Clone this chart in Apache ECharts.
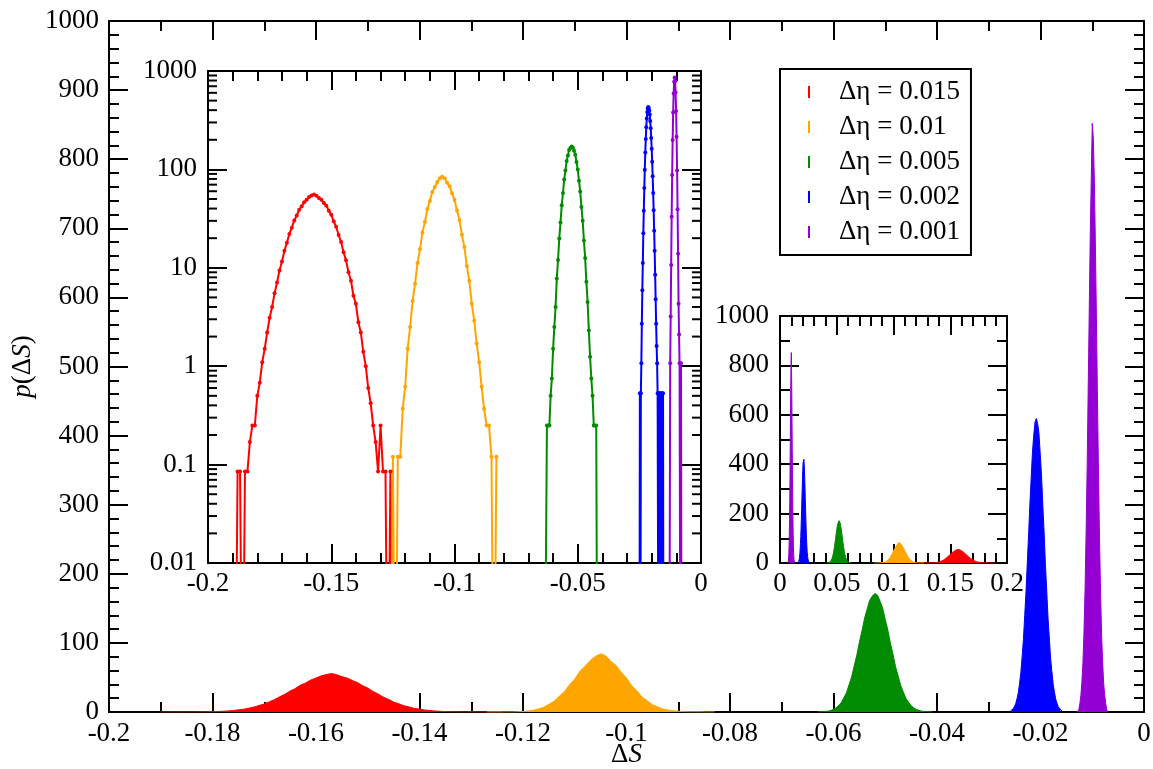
<!DOCTYPE html>
<html>
<head>
<meta charset="utf-8">
<title>p(ΔS)</title>
<script src="https://cdn.jsdelivr.net/npm/echarts@6/dist/echarts.min.js"></script>
<style>
  html, body { margin: 0; padding: 0; background: #fff; }
  #chart { width: 1153px; height: 769px; }
</style>
</head>
<body>
<div id="chart"></div>
<script>
// legend names and colours
const names = ['Δη = 0.015', 'Δη = 0.01', 'Δη = 0.005', 'Δη = 0.002', 'Δη = 0.001']
const colors = ['#ff0000', '#ffa500', '#008b00', '#0000ff', '#9400d3']

// main histograms p(ΔS), also shown mirrored (-ΔS) in the small linear inset
const red = [0, 0, 0.085, 0.085, 0, 0.085, 0.085, 0.17, 0.25, 0.25, 0.5, 0.68, 1.1, 1.5, 2.2, 3.1, 4.0, 5.5, 7.1, 9.4, 11.6, 14.9, 18.0, 22.1, 25.6, 30.3, 34.0, 38.9, 42.1, 46.3, 49.1, 52.3, 54.2, 55.6, 54.0, 51.2, 49.2, 45.6, 42.8, 38.1, 34.6, 29.7, 26.1, 21.5, 18.3, 14.4, 11.9, 9.0, 7.4, 5.2, 4.3, 2.8, 2.2, 1.4, 1.0, 0.6, 0.42, 0.25, 0.17, 0.085, 0.25, 0.085, 0.085, 0, 0.085, 0, 0]
const orange = [0, 0, 0.12, 0, 0.12, 0.12, 0.37, 0.62, 1.5, 2.5, 4.6, 6.9, 11.2, 15.4, 22.9, 29.4, 39.6, 47.8, 58.9, 66.1, 74.5, 80.6, 84.2, 81.3, 73.1, 67.4, 57.3, 49.2, 38.2, 30.6, 21.7, 16.3, 10.4, 7.4, 4.3, 2.9, 1.7, 1.1, 0.62, 0.37, 0.25, 0.25, 0.12, 0, 0.12]
const green = [0.13, 0.25, 0.45, 0.8, 1.4, 2.3, 3.9, 6.0, 9.4, 13.6, 20.5, 28.0, 39.2, 50.8, 66.7, 82.1, 100.9, 117.4, 135.6, 148.8, 161.9, 167.7, 171.5, 169.2, 160.3, 150.4, 133.9, 118.6, 99.5, 83.3, 65.4, 51.9, 38.2, 28.6, 19.8, 14.1, 9.2, 6.2, 3.7, 2.4, 1.3, 0.8, 0.45, 0.25, 0.13]
const blue = [1.5, 2.9, 4.6, 7.9, 11.8, 19.1, 27.4, 41.2, 56.8, 80.1, 105.2, 139.4, 174.1, 216.3, 257.0, 301.2, 339.1, 376.0, 401.3, 420.2, 424.8, 417.6, 403.5, 373.2, 341.8, 298.4, 259.7, 213.9, 176.2, 136.8, 107.1, 78.2, 58.3, 40.1, 28.4, 18.3, 12.4, 7.5, 4.8, 2.7, 1.6]
const violet = [0, 0.8, 3.1, 11.6, 23.7, 43.5, 70.8, 116.2, 173.9, 254.6, 347.3, 459.8, 571.4, 683.2, 768.5, 852.1, 830.6, 771.3, 679.5, 574.8, 456.2, 350.7, 251.8, 176.4, 113.7, 72.9, 42.1, 24.8, 12.2, 3.4, 0]
const mainStart = [-0.190, -0.127, -0.063, -0.0258, -0.0130]
const mainStep = [0.001, 0.001, 0.0005, 0.00025, 0.0002]

// log-scale inset (red and orange are the same as above)
const logGreen = [0, 0, 0.25, 0.25, 0.25, 0.5, 0.75, 1.5, 2.5, 4.0, 7.8, 12.0, 19.9, 28.8, 43.1, 57.6, 78.9, 97.5, 121.4, 138.6, 157.2, 165.1, 171.3, 167.0, 154.8, 140.9, 118.7, 99.6, 76.8, 59.5, 41.6, 30.1, 18.9, 12.6, 7.2, 4.5, 2.3, 1.25, 0.75, 0.5, 0.25, 0.25, 0.25, 0, 0]
const logBlue = [0, 0.53, 0, 0.53, 1.07, 2.7, 5.9, 11.2, 22.4, 38.1, 64.9, 99.2, 148.3, 203.6, 268.1, 328.4, 383.0, 415.2, 431.6, 420.8, 396.1, 360.4, 311.2, 262.3, 208.0, 161.9, 119.4, 85.3, 57.5, 38.4, 23.8, 14.9, 8.5, 4.8, 2.7, 1.6, 1.07, 0.53, 0.53, 0, 0.53, 0, 0, 0.53, 0.53, 0, 0.53, 0, 0.53, 0, 0]
const logViolet = [0, 0, 1.07, 3.2, 10.7, 33.1, 87.5, 199.2, 377.6, 590.3, 778.9, 856.4, 787.1, 608.5, 392.0, 214.7, 97.3, 39.4, 13.9, 4.3, 2.1, 1.07, 1.07, 0, 1.07, 0, 0]
const logStart = [-0.190, -0.127, -0.0635, -0.0250, -0.0129]
const logStep = [0.001, 0.001, 0.0005, 0.0002, 0.0002]

// axis ranges and tick steps
const mainX = [-0.2, 0, 0.02]
const mainY = [0, 1000, 100]
const logX = [-0.2, 0, 0.05]
const logY = [0.01, 1000]
const linX = [0, 0.2, 0.05]
const linY = [0, 1000, 200]

const mainHists = [red, orange, green, blue, violet]
const logHists = [red, orange, logGreen, logBlue, logViolet]

function binPoints(vals, start, step, sign) {
  return vals.map(function (p, j) {
    return [sign * (start + j * step), p]
  })
}

const font = 'Liberation Serif'
const fontSize = 27
const black = { color: '#000', width: 2 }

function fmtLin(v) {
  return String(Math.round(v * 1000) / 1000)
}
function fmtLog(v) {
  return v >= 1 ? String(Math.round(v)) : String(Number(v.toPrecision(1)))
}

function axis(gridIndex, position, range, minorSplit, showLabel, margin) {
  return {
    type: 'value',
    gridIndex: gridIndex,
    position: position,
    min: range[0],
    max: range[1],
    interval: range[2],
    axisLine: { show: true, onZero: false, lineStyle: black },
    axisTick: { show: true, inside: true, length: 19, lineStyle: black },
    minorTick: { show: true, splitNumber: minorSplit, length: 10, lineStyle: black },
    axisLabel: {
      show: showLabel,
      margin: margin,
      color: '#000',
      fontFamily: font,
      fontSize: fontSize,
      formatter: fmtLin,
      hideOverlap: false,
      showMinLabel: true,
      showMaxLabel: true,
    },
    splitLine: { show: false },
    minorSplitLine: { show: false },
  }
}

function logAxis(position, showLabel) {
  return {
    type: 'log',
    logBase: 10,
    gridIndex: 1,
    position: position,
    min: logY[0],
    max: logY[1],
    axisLine: { show: true, onZero: false, lineStyle: black },
    axisTick: { show: true, inside: true, length: 19, lineStyle: black },
    minorTick: { show: false },
    axisLabel: {
      show: showLabel,
      margin: 11,
      color: '#000',
      fontFamily: font,
      fontSize: fontSize,
      formatter: fmtLog,
      hideOverlap: false,
      showMinLabel: true,
      showMaxLabel: true,
    },
    splitLine: { show: false },
  }
}

var nameStyle = {
  color: '#000', fontFamily: font, fontSize: fontSize,
  rich: { i: { fontStyle: 'italic', fontFamily: font, fontSize: fontSize, color: '#000' } },
}

// x axes: main bottom/top, log inset bottom/top, linear inset bottom/top
var xMain = axis(0, 'bottom', mainX, 2, true, 8)
xMain.name = 'Δ{i|S}'
xMain.nameLocation = 'middle'
xMain.nameGap = 29
xMain.nameMoveOverlap = false
xMain.nameTextStyle = nameStyle
var yMain = axis(0, 'left', mainY, 5, true, 10)
yMain.name = '{i|p}(Δ{i|S})'
yMain.nameLocation = 'middle'
yMain.nameRotate = 90
yMain.nameGap = 73
yMain.nameMoveOverlap = false
yMain.nameTextStyle = nameStyle

// minor ticks of the log axis (2..9 in every decade), drawn on both sides
const logMinor = []
for (let e = -2; e < 3; e++) {
  for (let m = 2; m < 10; m++) logMinor.push([logX[0], m * Math.pow(10, e)])
}

var series = []
for (let i = 0; i < 5; i++) {
  // main panel, filled histogram
  series.push({
    name: names[i],
    type: 'line',
    xAxisIndex: 0,
    yAxisIndex: 0,
    data: binPoints(mainHists[i], mainStart[i], mainStep[i], 1),
    symbol: 'none',
    lineStyle: { color: colors[i], width: 1 },
    itemStyle: { color: colors[i] },
    areaStyle: { color: colors[i], opacity: 1 },
    z: 2,
  })
  // log inset, line with small dots; empty bins drop out of the frame
  series.push({
    name: names[i],
    type: 'line',
    xAxisIndex: 2,
    yAxisIndex: 2,
    data: binPoints(logHists[i], logStart[i], logStep[i], 1).map(function (p) {
      return [p[0], p[1] > 0 ? p[1] : 1e-4]
    }),
    symbol: 'circle',
    symbolSize: 4,
    showAllSymbol: true,
    lineStyle: { color: colors[i], width: 2 },
    itemStyle: { color: colors[i] },
    clip: true,
    z: 3,
  })
  // linear inset, -ΔS
  series.push({
    name: names[i],
    type: 'line',
    xAxisIndex: 4,
    yAxisIndex: 4,
    data: binPoints(mainHists[i], mainStart[i], mainStep[i], -1),
    symbol: 'none',
    lineStyle: { color: colors[i], width: 1 },
    itemStyle: { color: colors[i] },
    areaStyle: { color: colors[i], opacity: 1 },
    z: 3,
  })
}
series.push({
  type: 'custom',
  xAxisIndex: 2,
  yAxisIndex: 2,
  silent: true,
  clip: false,
  z: 4,
  encode: { x: 0, y: 1 },
  data: logMinor,
  renderItem: function (params, api) {
    var l = api.coord([logX[0], api.value(1)])
    var r = api.coord([logX[1], api.value(1)])
    return {
      type: 'group',
      children: [
        { type: 'line', shape: { x1: l[0], y1: l[1], x2: l[0] + 9, y2: l[1] }, style: { stroke: '#000', lineWidth: 2 } },
        { type: 'line', shape: { x1: r[0] - 9, y1: r[1], x2: r[0], y2: r[1] }, style: { stroke: '#000', lineWidth: 2 } },
      ],
    }
  },
})

var chart = echarts.init(document.getElementById('chart'), null, { renderer: 'canvas' })
chart.setOption({
  animation: false,
  backgroundColor: '#fff',
  grid: [
    { left: 109, top: 21, width: 1035, height: 691, outerBoundsMode: 'none' },
    { left: 208, top: 71, width: 493, height: 492, outerBoundsMode: 'none' },
    { left: 780, top: 316, width: 227, height: 247, outerBoundsMode: 'none' },
  ],
  legend: {
    data: names,
    orient: 'vertical',
    left: 780,
    top: 69,
    padding: [9, 11, 9, 28],
    itemGap: 7,
    itemWidth: 2,
    itemHeight: 12,
    icon: 'rect',
    selectedMode: false,
    borderColor: '#000',
    borderWidth: 2,
    borderRadius: 0,
    backgroundColor: '#fff',
    textStyle: { color: '#000', fontFamily: font, fontSize: fontSize, lineHeight: 28, padding: [0, 0, 0, 24] },
  },
  xAxis: [
    xMain,
    axis(0, 'top', mainX, 2, false, 8),
    axis(1, 'bottom', logX, 5, true, 7),
    axis(1, 'top', logX, 5, false, 7),
    axis(2, 'bottom', linX, 5, true, 7),
    axis(2, 'top', linX, 5, false, 7),
  ],
  yAxis: [
    yMain,
    axis(0, 'right', mainY, 5, false, 10),
    logAxis('left', true),
    logAxis('right', false),
    axis(2, 'left', linY, 2, true, 11),
    axis(2, 'right', linY, 2, false, 11),
  ],
  series: series,
})
</script>
</body>
</html>
